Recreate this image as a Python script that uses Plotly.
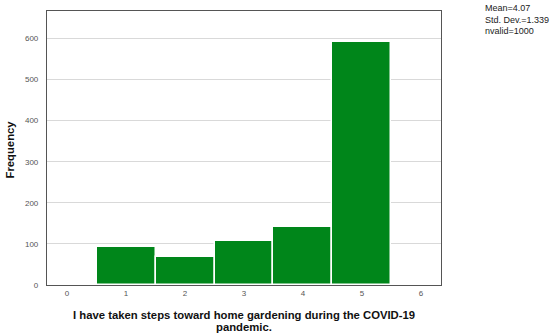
import plotly.graph_objects as go

# response categories and their counts
categories = [1, 2, 3, 4, 5]
counts = [92, 67, 108, 141, 592]
x_ticks = [0, 1, 2, 3, 4, 5, 6]
y_ticks = [0, 100, 200, 300, 400, 500, 600]
x_title = ["I have taken steps toward home gardening during the COVID-19", "pandemic."]
y_title = "Frequency"
stats_lines = ["Mean=4.07", "Std. Dev.=1.339", "nvalid=1000"]

fig = go.Figure()
fig.add_trace(go.Bar(
    x=categories, y=counts, width=1,
    marker=dict(color="#00861a", line=dict(color="white", width=1.5)),
    showlegend=False,
))

fig.update_layout(
    width=550, height=336,
    margin=dict(l=47, r=109, t=11, b=51),
    paper_bgcolor="white", plot_bgcolor="white",
    font=dict(family="Arial, Liberation Sans, sans-serif", color="#333"),
    bargap=0,
)
fig.update_xaxes(
    range=[-0.34, 6.34], tickvals=x_ticks, ticktext=[str(t) for t in x_ticks],
    tickfont=dict(size=8, color="#555"), showgrid=False, zeroline=False,
    showline=True, linecolor="#555", linewidth=1.2, mirror=True, ticks="", ticklen=0,
    automargin=False,
)
fig.update_yaxes(
    range=[0, 667], tickvals=y_ticks, tickfont=dict(size=8, color="#555"),
    showgrid=True, gridcolor="#d9d9d9", gridwidth=1, zeroline=False,
    showline=True, linecolor="#555", linewidth=1.2, mirror=True,
    ticks="outside", ticklen=6, tickcolor="rgba(0,0,0,0)",
    automargin=False,
)

# axis titles as annotations so the line spacing matches
for i, line in enumerate(x_title):
    fig.add_annotation(
        xref="paper", yref="paper", x=0.5, y=-0.1106 - 0.0414 * i,
        xanchor="center", yanchor="middle", showarrow=False,
        text="<b>%s</b>" % line, font=dict(size=11.3, color="#111"),
    )
fig.add_annotation(
    xref="paper", yref="paper", x=-0.0964, y=0.4945, textangle=-90,
    xanchor="center", yanchor="middle", showarrow=False,
    text="<b>%s</b>" % y_title, font=dict(size=11.3, color="#111"),
)

fig.add_annotation(
    xref="paper", yref="paper", x=1.1066, y=1.036, xanchor="left", yanchor="top",
    text="<br>".join(stats_lines), showarrow=False, align="left",
    font=dict(size=9, color="#222"),
)

# drop the default 8px body margin so the figure sits at the page corner
fig.write_html("out.html", config={"displayModeBar": False},
               post_script="document.body.style.margin='0';")
